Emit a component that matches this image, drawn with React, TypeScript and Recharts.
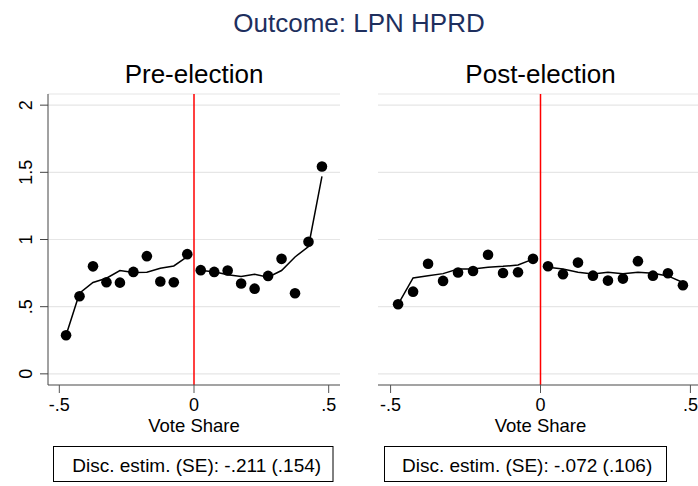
import React from 'react';
import { CartesianGrid, ComposedChart, Line, ReferenceLine, Scatter, XAxis, YAxis } from 'recharts';

// bin centres of vote share (20 bins of width .05)
const binCenters = [
  -0.475, -0.425, -0.375, -0.325, -0.275, -0.225, -0.175, -0.125, -0.075, -0.025,
  0.025, 0.075, 0.125, 0.175, 0.225, 0.275, 0.325, 0.375, 0.425, 0.475,
];

const preBinMeans = [
  0.287, 0.578, 0.8, 0.682, 0.679, 0.759, 0.876, 0.687, 0.682, 0.891,
  0.772, 0.759, 0.769, 0.672, 0.634, 0.729, 0.856, 0.6, 0.983, 1.543,
];
const preFitBelow = [0.287, 0.6, 0.68, 0.712, 0.769, 0.754, 0.756, 0.786, 0.803, 0.873];
const preFitAbove = [0.77, 0.76, 0.737, 0.724, 0.742, 0.72, 0.769, 0.87, 0.948, 1.47];

const postBinMeans = [
  0.518, 0.612, 0.819, 0.692, 0.754, 0.766, 0.886, 0.751, 0.756, 0.856,
  0.801, 0.742, 0.828, 0.731, 0.694, 0.709, 0.839, 0.731, 0.749, 0.66,
];
const postFitBelow = [0.518, 0.714, 0.731, 0.746, 0.781, 0.781, 0.794, 0.8, 0.811, 0.854];
const postFitAbove = [0.794, 0.781, 0.756, 0.744, 0.756, 0.746, 0.756, 0.749, 0.729, 0.68];

const xTicks = [-0.5, 0, 0.5];
const yTicks = [0, 0.5, 1, 1.5, 2];

const mainTitle = 'Outcome: LPN HPRD';
const panelTitles = ['Pre-election', 'Post-election'];
const xLabel = 'Vote Share';
const discLabels = ['Disc. estim. (SE): -.211 (.154)', 'Disc. estim. (SE): -.072 (.106)'];

const font = '"Liberation Sans", Arial, Helvetica, sans-serif';

const fmt = (v: number) => (v === 0 ? '0' : String(v).replace('0.', '.'));

const toPoints = (xs: number[], ys: number[]) => ys.map((y, i) => ({ x: xs[i], y }));

const YTick = (props: any) => {
  const { x, y, payload } = props;
  const bx = x - 6;
  return (
    <text x={bx} y={y} transform={`rotate(-90, ${bx}, ${y})`} textAnchor="middle"
          fontSize={18} fontFamily={font} fill="#000">
      {fmt(payload.value)}
    </text>
  );
};

const XTick = (props: any) => {
  const { x, y, payload } = props;
  return (
    <text x={x} y={y + 11} textAnchor="middle" fontSize={18} fontFamily={font} fill="#000">
      {fmt(payload.value)}
    </text>
  );
};

const Dot = (props: any) => <circle cx={props.cx} cy={props.cy} r={5.3} fill="#000" />;

interface PanelProps {
  left: number;
  showY: boolean;
  means: number[];
  fitBelow: number[];
  fitAbove: number[];
}

const Panel = ({ left, showY, means, fitBelow, fitAbove }: PanelProps) => {
  const margin = showY
    ? { top: 94, right: 20, bottom: 71, left: 0 }
    : { top: 94, right: 17, bottom: 71, left: 18 };
  return (
    <div style={{ position: 'absolute', left, top: 0 }}>
      <ComposedChart width={360} height={486} margin={margin}>
        <CartesianGrid vertical={false} stroke="#e6e6e6" strokeWidth={1.2} />
        <XAxis type="number" dataKey="x" domain={[-0.542, 0.542]} ticks={xTicks}
               allowDataOverflow height={30} tickSize={8} tickMargin={7}
               stroke="#555" tick={<XTick />} />
        <YAxis type="number" dataKey="y" domain={[-0.083, 2.083]} ticks={yTicks}
               allowDataOverflow hide={!showY} width={48} tickSize={8} stroke="#444"
               tick={<YTick />} />
        <ReferenceLine x={0} stroke="#ff0000" strokeWidth={1.5} />
        <Line data={toPoints(binCenters, fitBelow)} dataKey="y" type="linear" stroke="#000"
              strokeWidth={1.5} dot={false} isAnimationActive={false} />
        <Line data={toPoints(binCenters.slice(10), fitAbove)} dataKey="y" type="linear" stroke="#000"
              strokeWidth={1.5} dot={false} isAnimationActive={false} />
        <Scatter data={toPoints(binCenters, means)} dataKey="y" shape={<Dot />} isAnimationActive={false} />
      </ComposedChart>
    </div>
  );
};

export default function App() {
  return (
    <div style={{ position: 'absolute', left: 0, top: 0, width: 698, height: 486, overflow: 'hidden', background: '#fff' }}>
      <Panel left={0} showY means={preBinMeans} fitBelow={preFitBelow} fitAbove={preFitAbove} />
      <Panel left={360} showY={false} means={postBinMeans} fitBelow={postFitBelow} fitAbove={postFitAbove} />
      <svg width={698} height={486} style={{ position: 'absolute', left: 0, top: 0, pointerEvents: 'none' }}
           fontFamily={font}>
        <text x={359} y={31.5} textAnchor="middle" fontSize={26} fill="#1e2f5e">{mainTitle}</text>
        <text x={194} y={83} textAnchor="middle" fontSize={26} fill="#000">{panelTitles[0]}</text>
        <text x={540.5} y={83} textAnchor="middle" fontSize={26} fill="#000">{panelTitles[1]}</text>
        <text x={194} y={431.5} textAnchor="middle" fontSize={18.5} fill="#000">{xLabel}</text>
        <text x={540.5} y={431.5} textAnchor="middle" fontSize={18.5} fill="#000">{xLabel}</text>
        <rect x={53.5} y={446.5} width={279.5} height={35} fill="none" stroke="#000" strokeWidth={1} />
        <rect x={384.5} y={446.5} width={282} height={35} fill="none" stroke="#000" strokeWidth={1} />
        <text x={72.3} y={471.7} fontSize={19} fill="#000">{discLabels[0]}</text>
        <text x={402} y={471.7} fontSize={19} fill="#000">{discLabels[1]}</text>
      </svg>
    </div>
  );
}
